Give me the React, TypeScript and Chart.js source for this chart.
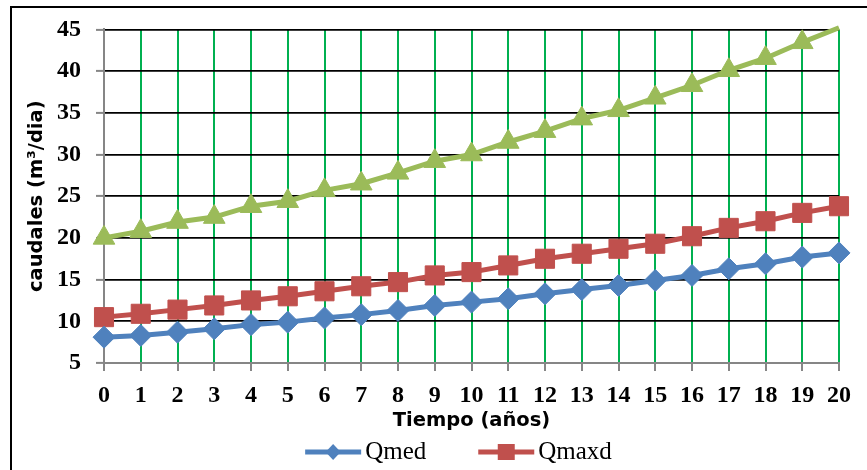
import React, { useEffect, useRef } from 'react';
import { Chart, registerables } from 'chart.js';

Chart.register(...registerables);

// ---- data ----
const years = ['0', '1', '2', '3', '4', '5', '6', '7', '8', '9', '10', '11', '12', '13', '14', '15', '16', '17', '18', '19', '20'];
const qmed = [8.1, 8.3, 8.7, 9.1, 9.6, 9.9, 10.4, 10.8, 11.3, 11.9, 12.3, 12.7, 13.3, 13.8, 14.3, 14.9, 15.5, 16.3, 16.9, 17.7, 18.2];
const qmaxd = [10.5, 10.9, 11.4, 11.9, 12.5, 13.0, 13.6, 14.2, 14.7, 15.5, 15.9, 16.7, 17.5, 18.1, 18.7, 19.3, 20.2, 21.2, 22.0, 23.0, 23.8];
const qmaxh = [20.0, 20.8, 21.9, 22.5, 23.8, 24.4, 25.7, 26.5, 27.8, 29.2, 30.0, 31.5, 32.8, 34.3, 35.3, 36.8, 38.3, 40.1, 41.55, 43.45, 45.2];
const seriesNames = ['Qmed', 'Qmaxd', 'Qmaxh'];
const legendShown = ['Qmed', 'Qmaxd'];
const yMin = 5;
const yMax = 45;
const yStep = 5;
const xTitle = 'Tiempo (años)';
const yTitle = 'caudales (m³/dia)';

const BLUE = '#4F81BD';
const RED = '#C0504D';
const GREEN = '#9BBB59';

function drawMarker(ctx: CanvasRenderingContext2D, style: string, x: number, y: number, color: string) {
  ctx.save();
  ctx.fillStyle = color;
  ctx.beginPath();
  if (style === 'rectRot') {
    ctx.moveTo(x, y - 8);
    ctx.lineTo(x + 7.5, y);
    ctx.lineTo(x, y + 8);
    ctx.lineTo(x - 7.5, y);
    ctx.closePath();
  } else if (style === 'rect') {
    ctx.rect(x - 8.5, y - 8, 17, 16);
  } else {
    ctx.moveTo(x, y - 8);
    ctx.lineTo(x + 8, y + 6);
    ctx.lineTo(x - 8, y + 6);
    ctx.closePath();
  }
  ctx.fill();
  ctx.restore();
}

const legendPlugin = {
  id: 'excelLegend',
  afterDraw(chart: any) {
    const ctx: CanvasRenderingContext2D = chart.ctx;
    const items = chart.data.datasets.filter((d: any) => legendShown.includes(d.label));
    const font = '25px "Liberation Serif", "Times New Roman", serif';
    ctx.save();
    ctx.font = font;
    const lineLen = 56;
    const textGap = 4;
    const itemGap = 52;
    const widths = items.map((d: any) => lineLen + textGap + ctx.measureText(d.label).width);
    const total = widths.reduce((a: number, b: number) => a + b, 0) + itemGap * (items.length - 1);
    const centerX = (chart.chartArea.left + chart.chartArea.right) / 2 - 13;
    const y = 452;
    let x = centerX - total / 2;
    items.forEach((d: any, i: number) => {
      ctx.strokeStyle = d.borderColor;
      ctx.lineWidth = 5;
      ctx.beginPath();
      ctx.moveTo(x, y);
      ctx.lineTo(x + lineLen, y);
      ctx.stroke();
      drawMarker(ctx, d.pointStyle, x + lineLen / 2, y, d.borderColor);
      ctx.fillStyle = '#000';
      ctx.textBaseline = 'middle';
      ctx.textAlign = 'left';
      ctx.fillText(d.label, x + lineLen + textGap, y);
      x += widths[i] + itemGap;
    });
    ctx.restore();
  },
};

export default function App() {
  const ref = useRef<HTMLCanvasElement | null>(null);

  useEffect(() => {
    if (!ref.current) return;
    const tickFont = { family: '"Liberation Serif", "Times New Roman", serif', size: 24, weight: 'bold' as const };
    const titleFont = { family: '"DejaVu Sans", sans-serif', size: 19.5, weight: 'bold' as const };
    const hideAbove = (c: any, r: number) => (c.raw > yMax ? 0 : r);
    const chart = new Chart(ref.current, {
      type: 'line',
      data: {
        labels: years,
        datasets: [
          {
            label: seriesNames[0], data: qmed, borderColor: BLUE, backgroundColor: BLUE,
            pointStyle: 'rectRot', pointRadius: (c: any) => hideAbove(c, 11), pointBorderWidth: 1,
            pointBackgroundColor: BLUE, pointBorderColor: BLUE, borderWidth: 5, tension: 0, clip: false as any,
          },
          {
            label: seriesNames[1], data: qmaxd, borderColor: RED, backgroundColor: RED,
            pointStyle: 'rect', pointRadius: (c: any) => hideAbove(c, 13.5), pointBorderWidth: 1,
            pointBackgroundColor: RED, pointBorderColor: RED, borderWidth: 5, tension: 0, clip: false as any,
          },
          {
            label: seriesNames[2], data: qmaxh, borderColor: GREEN, backgroundColor: GREEN,
            pointStyle: 'triangle', pointRadius: (c: any) => hideAbove(c, 12.5), pointBorderWidth: 1,
            pointBackgroundColor: GREEN, pointBorderColor: GREEN, borderWidth: 5, tension: 0, clip: false as any,
          },
        ],
      },
      options: {
        responsive: false,
        animation: false,
        devicePixelRatio: 1,
        layout: { padding: { left: 0, top: 27, right: 28, bottom: 32 } },
        plugins: { legend: { display: false }, tooltip: { enabled: false } },
        scales: {
          x: {
            grid: { color: '#00B050', lineWidth: 2, tickColor: '#868686', tickLength: 8, tickWidth: 2 },
            border: { color: '#868686', width: 2 },
            ticks: { font: tickFont, color: '#000', padding: 10, maxRotation: 0, autoSkip: false },
            title: { display: true, text: xTitle, font: titleFont, color: '#000', padding: { top: 0, bottom: 5 } },
            afterFit: (s: any) => { s.height = 75; },
          },
          y: {
            min: yMin,
            max: yMax,
            grid: { color: '#000', lineWidth: 1.8, tickColor: '#868686', tickLength: 8, tickWidth: 2 },
            border: { color: '#868686', width: 2 },
            ticks: { stepSize: yStep, font: tickFont, color: '#000', padding: 15 },
            title: { display: true, text: yTitle, font: titleFont, color: '#000', padding: { top: 25, bottom: 0 } },
            afterFit: (s: any) => { s.width = 104; },
          },
        },
      } as any,
      plugins: [legendPlugin],
    });
    return () => chart.destroy();
  }, []);

  return (
    <div style={{ position: 'fixed', left: 0, top: 0, width: 867, height: 470, overflow: 'hidden', background: '#fff' }}>
      <canvas ref={ref} width={867} height={470} style={{ position: 'absolute', left: 0, top: 0, width: 867, height: 470 }} />
      <div style={{ position: 'absolute', left: 10, top: 6, width: 900, height: 500, border: '2px solid #000', pointerEvents: 'none' }} />
    </div>
  );
}
